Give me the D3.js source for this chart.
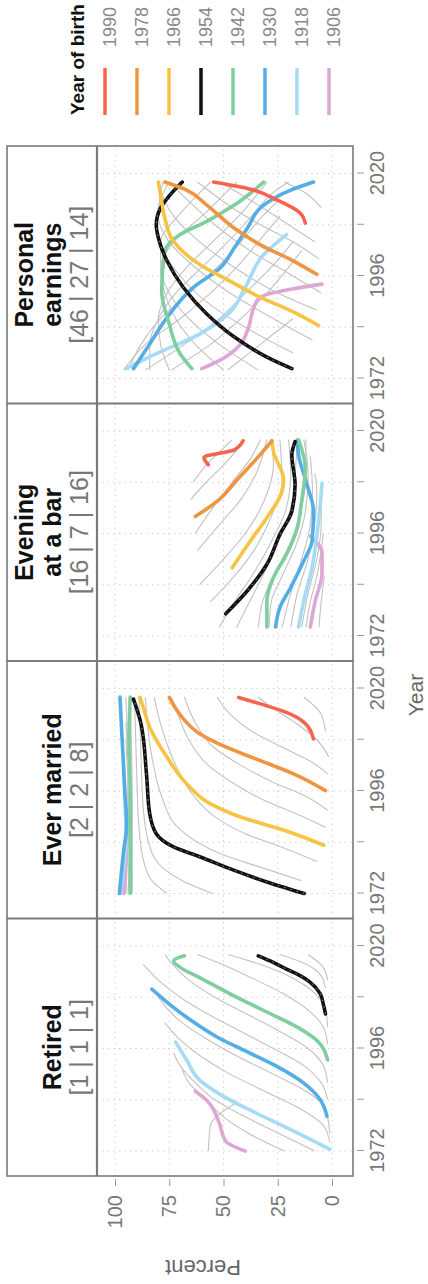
<!DOCTYPE html>
<html>
<head>
<meta charset="utf-8">
<script src="https://cdn.jsdelivr.net/npm/d3@7"></script>
<style>
  body { margin: 0; background: #fff; }
  text { font-family: "Liberation Sans", Arial, sans-serif; }
</style>
</head>
<body>
<div id="chart"></div>
<script>
// panels (left to right in the unrotated chart)
var panelTitles = [["Retired"], ["Ever married"], ["Evening", "at a bar"], ["Personal", "earnings"]];
var panelCounts = ["[1 | 1 | 1]", "[2 | 2 | 8]", "[16 | 7 | 16]", "[46 | 27 | 14]"];

// highlighted birth cohorts + colours
var highlightCohorts = [1990, 1978, 1966, 1954, 1942, 1930, 1918, 1906];
var highlightColors = ["#f8634f", "#ef9440", "#f6c343", "#111111", "#7fce9e", "#55ade6", "#a5dbf6", "#dea6d3"];

var yearTicks = [1972, 1984, 1996, 2008, 2020];
var yearLabels = [1972, 1996, 2020];
var percentTicks = [0, 25, 50, 75, 100];

// [cohort, [[year, percent], ...]]
var retired = [
  [1902, [[1972,57],[1978,56],[1983,45]]],
  [1906, [[1972,40],[1974.3,49],[1978.6,52],[1984,58],[1986,63]]],
  [1910, [[1972,22],[1976,38],[1980,50],[1984,58],[1988,66],[1991,69]]],
  [1914, [[1972,8],[1976,24],[1980,40],[1984,54],[1988,63],[1992,70],[1995,73]]],
  [1918, [[1972.4,1],[1977,19],[1980.9,35],[1984.8,50],[1988.6,61],[1993.3,67],[1997.5,72]]],
  [1922, [[1974,1],[1978,4],[1982,15],[1986,31],[1990,47],[1994,60],[1998,70],[2002,77]]],
  [1926, [[1976,1],[1982,3],[1986,12],[1990,27],[1994,43],[1998,57],[2002,69],[2006,77],[2008,80]]],
  [1930, [[1980.1,2.3],[1984,5.4],[1987.9,13],[1991.7,25],[1995.2,39],[1998.7,53],[2002.6,65],[2006.4,75],[2009.9,83]]],
  [1934, [[1984,2],[1988,5],[1992,13],[1996,27],[2000,42],[2004,57],[2008,70],[2012,80],[2015.7,87]]],
  [1938, [[1988,2],[1992,4],[1996,11],[2000,24],[2004,39],[2008,54],[2012,66],[2016,74],[2018,77]]],
  [1942, [[1993.3,2],[1997.9,7],[2001,16],[2004.9,31.5],[2008.8,47],[2012.6,61],[2015,70],[2016.5,73],[2017.7,68]]],
  [1946, [[1997,2],[2001,4],[2005,11],[2009,23],[2013,39],[2016,52],[2018,62]]],
  [1950, [[2001,2],[2005,3],[2009,8],[2013,20],[2016,35],[2018,48]]],
  [1954, [[2004.1,3],[2006.4,4],[2008.8,5.4],[2011.5,10],[2013.4,16],[2014.6,21],[2016.5,28.5],[2017.7,34]]],
  [1958, [[2010,3],[2013,5],[2016,13],[2018,24]]],
  [1962, [[2012,2],[2015,4],[2018,11]]]
];

var everMarried = [
  [1906, [[1972,96],[1976,95.5],[1981,95]]],
  [1910, [[1972,95],[1980,95],[1990,94]]],
  [1914, [[1972,96],[1984,95],[1996,95]]],
  [1918, [[1972,97.5],[1978,96],[1986,95],[1996,95.5],[2002,96]]],
  [1922, [[1972,96],[1984,94],[1996,94],[2008,95]]],
  [1926, [[1972,95],[1986,94],[2000,94],[2012,95]]],
  [1930, [[1972,98],[1982,96],[1988,94.6],[1996,95.5],[2006,96.5],[2018,97.7]]],
  [1934, [[1972,94],[1990,93],[2006,94],[2018,95]]],
  [1938, [[1972,92],[1990,92],[2018,93]]],
  [1942, [[1972,93],[1984,93],[1996,93],[2008,93.5],[2018,93]]],
  [1946, [[1972,76],[1975,83],[1980,87],[1988,89],[2000,90],[2018,91]]],
  [1950, [[1972,55],[1975,69],[1978,78],[1983,84],[1992,87],[2004,88],[2018,89]]],
  [1954, [[1972,12.8],[1974.7,30],[1977.4,45],[1980.6,61],[1982.9,73],[1986,81],[1990.7,84],[2000,85.5],[2011.7,88],[2017.5,91.5]]],
  [1958, [[1975,14],[1978,32],[1981,50],[1984,62],[1988,72],[1994,78],[2004,83],[2018,86]]],
  [1962, [[1979.5,7],[1983,24],[1986,40],[1990,54],[1995,64],[2002,72],[2010,78],[2018,82]]],
  [1966, [[1983.3,3.8],[1986.8,22],[1989.9,42],[1993,56],[1997.7,67],[2003.9,76],[2010.9,84],[2015.6,87],[2017.9,88.5]]],
  [1970, [[1987.5,3],[1991,18],[1994,32],[1998,46],[2002,57],[2008,66],[2014,71],[2018,74]]],
  [1974, [[1991.5,2],[1995,13],[1998,27],[2002,42],[2006,54],[2012,63],[2018,68]]],
  [1978, [[1996.1,3],[2000,17.7],[2003.1,33],[2006.2,48.5],[2009.4,61],[2013.2,69],[2017.9,75]]],
  [1982, [[2000,2],[2003,10],[2006,22],[2010,37],[2014,47],[2018,53]]],
  [1986, [[2004,1.5],[2008,7],[2012,17],[2016,29],[2018,34]]],
  [1990, [[2008.2,8.5],[2012.1,13],[2014.4,21],[2016.4,33],[2017.9,43]]],
  [1994, [[2010,3],[2014,5],[2018,13]]]
];

var eveningBar = [
  [1902, [[1974,6],[1980,5],[1986,3.5]]],
  [1906, [[1974.1,10],[1980.3,7.7],[1986.5,4.6],[1991.5,4.6],[1995.4,10]]],
  [1910, [[1974,12],[1980,10],[1986,7],[1992,5],[1996,4]]],
  [1914, [[1974,14],[1982,11],[1990,7],[1998,5],[2002,5]]],
  [1918, [[1974.1,15.4],[1980.3,13],[1988,9.2],[1995.8,6.9],[2007.8,4.6]]],
  [1922, [[1974,19],[1982,16],[1990,11],[1998,8],[2006,7],[2010,8]]],
  [1926, [[1974,23],[1982,19],[1990,14],[1998,10],[2006,9],[2014,10]]],
  [1930, [[1974.1,26],[1978.7,24],[1983.4,19],[1989.6,13],[1994.2,9.2],[2001.2,8.5],[2007.4,11.5],[2014.4,15.4],[2017.9,16]]],
  [1934, [[1974,29],[1980,28],[1986,23],[1994,16],[2002,12],[2010,11],[2018,13]]],
  [1938, [[1974,34],[1980,32],[1986,27],[1994,19],[2002,14],[2010,12],[2018,12]]],
  [1942, [[1974.1,30],[1980.3,30],[1985.7,27],[1991.1,21],[1997.3,16],[2003.6,14],[2011.3,12.3],[2017.9,15.4]]],
  [1946, [[1974,44],[1980,38],[1986,32],[1994,25],[2002,19],[2010,17],[2018,16]]],
  [1950, [[1974,52],[1980,45],[1986,37],[1994,28],[2002,21],[2010,19],[2018,20]]],
  [1954, [[1977.2,49],[1982.6,39],[1988.8,30],[1995.8,24],[2001.2,18.5],[2007.4,17],[2014.4,18.5],[2017.5,17]]],
  [1958, [[1980,56],[1986,45],[1992,36],[2000,28],[2008,23],[2018,24]]],
  [1962, [[1984,61],[1990,50],[1996,40],[2004,31],[2012,27],[2018,28]]],
  [1966, [[1988,46],[1994.2,37.7],[1999.7,30],[2005.9,23],[2008.6,22.3],[2015.2,27],[2017.7,27.7]]],
  [1970, [[1992,62],[1998,52],[2004,42],[2010,35],[2018,30]]],
  [1974, [[1996,63],[2002,55],[2008,46],[2014,37],[2018,33]]],
  [1978, [[2000,63],[2003.5,53],[2009,43],[2013.6,34.6],[2017.7,27.7]]],
  [1982, [[2004,65],[2008,58],[2012,50],[2018,40]]],
  [1986, [[2008,64],[2012,58],[2016,50],[2018,46]]],
  [1990, [[2012.1,57],[2013.8,59],[2015.6,45],[2017.7,41]]]
];

var personalEarnings = [
  [1902, [[1974,48],[1978,38],[1982,28],[1986,18]]],
  [1906, [[1974.3,60],[1976.3,51.5],[1980.1,42],[1983.2,39],[1990.2,34.6],[1991.7,30],[1992.9,19],[1994.1,4.6]]],
  [1910, [[1974,74],[1980,56],[1986,42],[1992,30],[1998,20],[2002,14]]],
  [1914, [[1974,86],[1980,68],[1986,52],[1992,40],[1998,28],[2004,18]]],
  [1918, [[1974.3,95],[1977.8,81],[1982.4,61],[1987.5,47],[1993.3,40],[2001,31.5],[2005.7,21]]],
  [1922, [[1974,96],[1980,86],[1986,70],[1992,56],[1998,44],[2004,34],[2010,24]]],
  [1926, [[1974,94],[1980,88],[1986,79],[1992,66],[1998,53],[2004,42],[2010,32],[2014,24]]],
  [1930, [[1974.3,91.5],[1980.1,84],[1986.3,76],[1993.3,64],[1997.9,51.5],[2002.6,45],[2007.2,39],[2012.6,31.5],[2016.1,19],[2018,8.5]]],
  [1934, [[1974,84],[1980,84],[1986,80],[1992,72],[1998,60],[2004,48],[2010,37],[2016,26],[2018,20]]],
  [1938, [[1974,75],[1980,79],[1986,80],[1992,76],[1998,67],[2004,55],[2010,43],[2018,30]]],
  [1942, [[1974.3,64.6],[1977.8,70],[1984.8,75],[1992.5,78.5],[2001.8,77],[2005.7,70],[2008.8,57.7],[2012.6,45],[2018,31.5]]],
  [1946, [[1974,50],[1980,63],[1986,72],[1992,77],[1998,79],[2004,73],[2010,60],[2018,44]]],
  [1950, [[1974,34],[1980,52],[1986,66],[1992,75],[1998,79],[2004,79],[2010,71],[2018,56]]],
  [1954, [[1974.3,18.5],[1977,30],[1981.7,45],[1987.1,57.7],[1993.3,68.5],[1999.5,76],[2004.9,80],[2008,81],[2011.9,79],[2015,74.6],[2018,69]]],
  [1958, [[1978,18],[1984,40],[1990,58],[1996,70],[2002,78],[2008,81],[2014,79],[2018,75]]],
  [1962, [[1981,9],[1986,27],[1992,47],[1998,63],[2004,75],[2010,80],[2018,78]]],
  [1966, [[1984.4,6.2],[1987.9,19],[1991,33],[1994.8,47],[1998.7,61],[2004.1,73],[2009.5,77],[2013.4,78.5],[2018,80]]],
  [1970, [[1988,7],[1992,25],[1998,45],[2004,61],[2010,73],[2018,80]]],
  [1974, [[1992,5],[1996,18],[2002,38],[2008,54],[2014,67],[2018,75]]],
  [1978, [[1996.4,7],[1999.5,17.7],[2003.3,33],[2007.2,45],[2012.6,57.7],[2016.1,67],[2018,77]]],
  [1982, [[2000,6],[2004,18],[2008,33],[2012,46],[2018,62]]],
  [1986, [[2004,8],[2008,20],[2012,32],[2016,45],[2018,52]]],
  [1990, [[2008.4,12.3],[2010.7,14.6],[2013.8,25.4],[2016.5,39],[2018,54.6]]],
  [1994, [[2012,5],[2016,14],[2018,22]]]
];

var panelData = [retired, everMarried, eveningBar, personalEarnings];

// the chart is drawn landscape and then turned a quarter turn
var svgWidth = 428;
var svgHeight = 1284;
var panelLeft = 108, panelW = 257.5;
var stripTop = 7, plotTop = 97, plotBottom = 353;
var gray = "#7a7a7a";

var svg = d3.select("#chart")
  .append("svg")
  .attr("width", svgWidth)
  .attr("height", svgHeight);
var chart = svg.append("g")
  .attr("transform", `translate(0, ${svgHeight}) rotate(-90)`);

// scales
var yScale = d3.scaleLinear().domain([0, 100]).range([332, 115]);
var xScale = d3.scaleLinear().domain([1972, 2020]).range([25, 230]);
var colorOf = d3.scaleOrdinal().domain(highlightCohorts).range(highlightColors);

var line = d3.line()
  .x(d => xScale(d[0]))
  .y(d => yScale(d[1]))
  .curve(d3.curveMonotoneX);

panelData.forEach(function(series, i) {
  var g = chart.append("g")
    .attr("transform", `translate(${panelLeft + i * panelW}, 0)`);

  // dotted grid
  g.selectAll("line.vgrid")
    .data(yearTicks)
    .enter()
    .append("line")
    .attr("x1", d => xScale(d)).attr("x2", d => xScale(d))
    .attr("y1", plotTop).attr("y2", plotBottom)
    .attr("stroke", "#c8c8c8")
    .attr("stroke-dasharray", "1.2,4.3");
  g.selectAll("line.hgrid")
    .data(percentTicks)
    .enter()
    .append("line")
    .attr("x1", 0).attr("x2", panelW)
    .attr("y1", d => yScale(d)).attr("y2", d => yScale(d))
    .attr("stroke", "#c8c8c8")
    .attr("stroke-dasharray", "1.2,4.3");

  // gray cohorts first, highlighted ones on top
  var others = series.filter(s => highlightCohorts.indexOf(s[0]) < 0);
  var highlighted = series.filter(s => highlightCohorts.indexOf(s[0]) >= 0)
    .sort((a, b) => a[0] - b[0]);
  g.selectAll("path.other")
    .data(others)
    .enter()
    .append("path")
    .attr("d", d => line(d[1]))
    .attr("fill", "none")
    .attr("stroke", "#c2c2c2")
    .attr("stroke-width", 1.1);
  g.selectAll("path.cohort")
    .data(highlighted)
    .enter()
    .append("path")
    .attr("d", d => line(d[1]))
    .attr("fill", "none")
    .attr("stroke", d => colorOf(d[0]))
    .attr("stroke-width", 3.6)
    .attr("stroke-linecap", "round")
    .attr("stroke-linejoin", "round");
  // white dashes inside the black cohort
  g.selectAll("path.dash")
    .data(highlighted.filter(s => s[0] === 1954))
    .enter()
    .append("path")
    .attr("d", d => line(d[1]))
    .attr("fill", "none")
    .attr("stroke", "#fff")
    .attr("stroke-opacity", 0.7)
    .attr("stroke-width", 0.8)
    .attr("stroke-dasharray", "1.5,5");

  // boxes
  g.append("rect")
    .attr("x", 0).attr("y", stripTop)
    .attr("width", panelW).attr("height", plotBottom - stripTop)
    .attr("fill", "none")
    .attr("stroke", gray)
    .attr("stroke-width", 1.6);
  g.append("line")
    .attr("x1", 0).attr("x2", panelW)
    .attr("y1", plotTop).attr("y2", plotTop)
    .attr("stroke", gray)
    .attr("stroke-width", 2.2);

  // strip text
  var title = panelTitles[i];
  var base = title.length === 2 ? [33, 61] : [61];
  title.forEach(function(t, k) {
    g.append("text")
      .attr("x", panelW / 2).attr("y", base[k])
      .attr("text-anchor", "middle")
      .attr("font-size", "25px")
      .attr("font-weight", "bold")
      .attr("fill", "#111")
      .text(t);
  });
  g.append("text")
    .attr("x", panelW / 2).attr("y", 88)
    .attr("text-anchor", "middle")
    .attr("font-size", "25px")
    .attr("fill", "#777")
    .text(panelCounts[i]);

  // year axis
  var xAxis = d3.axisBottom(xScale)
    .tickValues(yearTicks)
    .tickSize(7)
    .tickPadding(6)
    .tickFormat(d => yearLabels.indexOf(d) >= 0 ? d : "");
  var ax = g.append("g")
    .attr("transform", `translate(0, ${plotBottom + 4})`)
    .call(xAxis);
  ax.select(".domain").remove();
  ax.selectAll("line").attr("stroke", "#999");
  ax.selectAll("text")
    .attr("font-size", "20px")
    .attr("fill", "#777")
    .attr("font-family", "Liberation Sans, Arial, sans-serif");
});

// percent axis
var yAxis = d3.axisLeft(yScale)
  .tickValues(percentTicks)
  .tickSize(7)
  .tickPadding(9);
var ay = chart.append("g")
  .attr("transform", `translate(${panelLeft - 3}, 0)`)
  .call(yAxis);
ay.select(".domain").remove();
ay.selectAll("line").attr("stroke", "#999");
ay.selectAll("text")
  .attr("font-size", "20px")
  .attr("fill", "#777")
  .attr("font-family", "Liberation Sans, Arial, sans-serif");

// axis titles
chart.append("text")
  .attr("transform", "translate(24, 203) rotate(-90)")
  .attr("text-anchor", "middle")
  .attr("font-size", "22px")
  .attr("fill", "#666")
  .text("Percent");
chart.append("text")
  .attr("x", 589).attr("y", 423)
  .attr("text-anchor", "middle")
  .attr("font-size", "21px")
  .attr("fill", "#666")
  .text("Year");

// legend
var legend = chart.append("g").attr("transform", "translate(1169, 0)");
legend.append("text")
  .attr("x", 0).attr("y", 84)
  .attr("font-size", "19px")
  .attr("font-weight", "bold")
  .attr("fill", "#111")
  .text("Year of birth");
var items = legend.selectAll("g.item")
  .data(highlightCohorts)
  .enter()
  .append("g")
  .attr("transform", (d, i) => `translate(0, ${105 + i * 32})`);
items.append("line")
  .attr("x1", 0).attr("x2", 47)
  .attr("stroke", d => colorOf(d))
  .attr("stroke-width", 3.5);
items.append("text")
  .attr("x", 68).attr("y", 11)
  .attr("font-size", "18px")
  .attr("fill", "#888")
  .text(d => d);
</script>
</body>
</html>
